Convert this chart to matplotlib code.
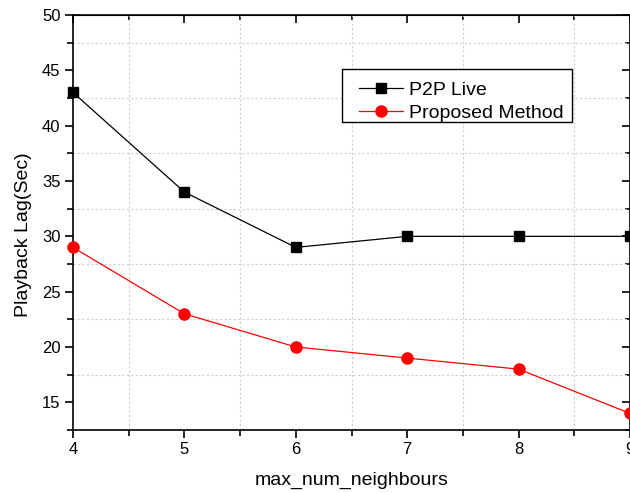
import matplotlib.pyplot as plt
from matplotlib.patches import Rectangle
from matplotlib.ticker import MultipleLocator

plt.rcParams['font.family'] = ['Liberation Sans', 'DejaVu Sans']

# данные: задержка воспроизведения в зависимости от числа соседей
neighbours = [4, 5, 6, 7, 8, 9]
p2p_live = [43, 34, 29, 30, 30, 30]
proposed = [29, 23, 20, 19, 18, 14]

W, H = 630, 493
fig = plt.figure(figsize=(W / 100, H / 100), dpi=100)
ax = fig.add_axes([73 / W, 63 / H, 557 / W, 415 / H])

ax.plot(neighbours, p2p_live, color='black', lw=0.9, marker='s', ms=6.5,
        label='P2P Live', clip_on=False, zorder=3)
ax.plot(neighbours, proposed, color='red', lw=0.9, marker='o', ms=8,
        label='Proposed Method', clip_on=False, zorder=3)

ax.set_xlim(4, 9)
ax.set_ylim(12.5, 50)
ax.xaxis.set_major_locator(MultipleLocator(1))
ax.xaxis.set_minor_locator(MultipleLocator(0.5))
ax.yaxis.set_major_locator(MultipleLocator(5))
ax.yaxis.set_minor_locator(MultipleLocator(2.5))

# сетка только по промежуточным делениям
ax.grid(which='minor', color='#d0d0d0', linestyle=(0, (2, 2)), lw=0.8)
ax.grid(which='major', visible=False)

ax.tick_params(which='both', direction='out', width=1.2, labelsize=12,
               top=False, right=False, pad=3)
ax.tick_params(which='major', length=6)
ax.tick_params(which='minor', length=4)
for s in ax.spines.values():
    s.set_linewidth(1.2)

# внутренние засечки сверху и справа
ax_top = ax.secondary_xaxis('top')
ax_top.xaxis.set_major_locator(MultipleLocator(1))
ax_top.xaxis.set_minor_locator(MultipleLocator(0.5))
ax_top.tick_params(which='both', direction='in', labeltop=False, width=1.2)
ax_top.tick_params(which='major', length=6)
ax_top.tick_params(which='minor', length=3.5)
ax_right = ax.secondary_yaxis('right')
ax_right.yaxis.set_major_locator(MultipleLocator(5))
ax_right.yaxis.set_minor_locator(MultipleLocator(2.5))
ax_right.tick_params(which='both', direction='in', labelright=False, width=1.2)
ax_right.tick_params(which='major', length=6)
ax_right.tick_params(which='minor', length=3.5)

ax.set_xlabel('max_num_neighbours', fontsize=14, labelpad=10)
ax.set_ylabel('Playback Lag(Sec)', fontsize=14)
ax.yaxis.set_label_coords(-0.074, 0.47)

# легенда без рамки + отдельная рамка под ней
leg = ax.legend(loc='upper left', bbox_to_anchor=(359 / W, 1 - 81 / H),
                bbox_transform=fig.transFigure, fontsize=14, frameon=False,
                borderpad=0, handlelength=2.27, labelspacing=0.3,
                handletextpad=0.3, borderaxespad=0)
leg.set_zorder(6)
frame = Rectangle((342 / W, 1 - 122 / H), 230 / W, 53 / H,
                  transform=fig.transFigure, facecolor='white',
                  edgecolor='black', lw=1.0, zorder=5, clip_on=False)
ax.add_patch(frame)

fig.savefig('out.png', dpi=100)
